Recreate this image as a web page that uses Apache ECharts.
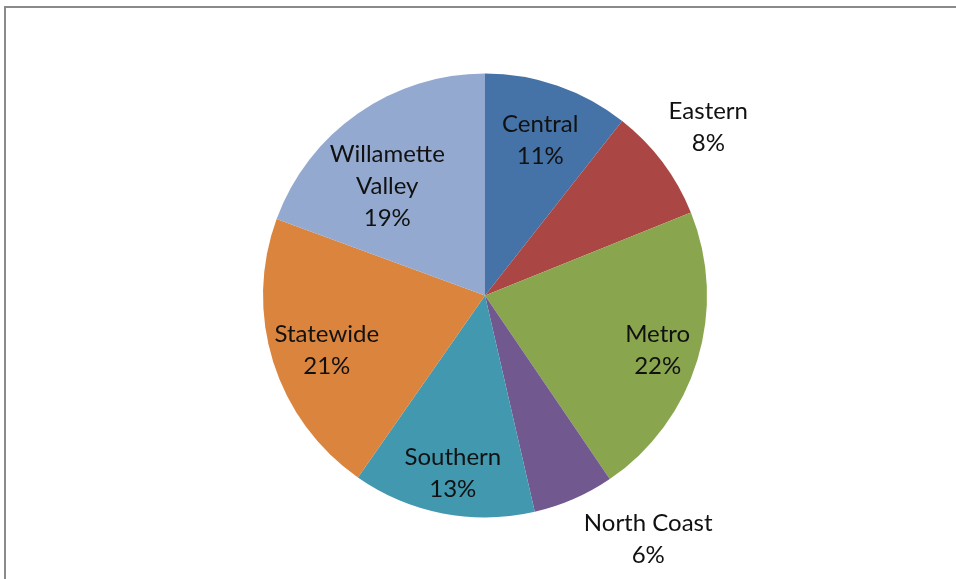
<!DOCTYPE html>
<html>
<head>
<meta charset="utf-8">
<script src="https://cdn.jsdelivr.net/npm/echarts@6/dist/echarts.min.js"></script>
<style>html,body{margin:0;padding:0;background:#fff;}#chart{width:956px;height:579px;}</style>
</head>
<body>
<div id="chart"></div>
<script>
const categories = ['Central', 'Eastern', 'Metro', 'North Coast', 'Southern', 'Statewide', 'Willamette Valley'];
const values = [10.6, 8.3, 21.6, 5.9, 13.3, 20.9, 19.4];
const colors = ['#4572A7', '#AA4643', '#89A54E', '#71588F', '#4198AF', '#DB843D', '#93A9CF'];
const outsideLabels = ['Eastern', 'North Coast'];
// small label nudges (px) to mimic the original's best-fit placement
const labelNudge = {
  'Central': [0, 4], 'Metro': [11, 6], 'Southern': [0, 12], 'Statewide': [3, 4],
  'Willamette Valley': [-1, 29], 'Eastern': [-3, 2], 'North Coast': [50, -16]
};

const center = [485, 295.5];
const R = 222;
const font = 'Lato, "Open Sans", sans-serif';

function fmt(p) {
  const name = p.name === 'Willamette Valley' ? 'Willamette\nValley' : p.name;
  return name + '\n' + Math.round(p.percent) + '%';
}
function nudge() {
  return function (params) {
    const name = categories[params.dataIndex];
    const n = labelNudge[name] || [0, 0];
    return { dx: n[0], dy: n[1] };
  };
}

const baseData = categories.map((c, i) => ({ name: c, value: values[i], itemStyle: { color: colors[i] } }));
const labelStyle = { fontFamily: font, fontSize: 24, color: '#111', lineHeight: 32 };

const chart = echarts.init(document.getElementById('chart'), null, { renderer: 'canvas' });
chart.setOption({
  backgroundColor: '#fff',
  animation: false,
  graphic: [
    { type: 'line', shape: { x1: 4, y1: 7, x2: 956, y2: 7 }, style: { stroke: '#8a8a8a', lineWidth: 2 } },
    { type: 'line', shape: { x1: 5, y1: 6, x2: 5, y2: 579 }, style: { stroke: '#8a8a8a', lineWidth: 2 } }
  ],
  series: [
    {
      type: 'pie', center: center, radius: [0, R], startAngle: 90, clockwise: true,
      silent: true, label: { show: false }, labelLine: { show: false },
      data: baseData
    },
    {
      type: 'pie', center: center, radius: [110, R], startAngle: 90, clockwise: true,
      silent: true, labelLine: { show: false },
      itemStyle: { color: 'rgba(0,0,0,0)' },
      label: Object.assign({ show: true, position: 'inside', formatter: fmt }, labelStyle),
      labelLayout: nudge(),
      data: categories.map((c, i) => ({ name: c, value: values[i], itemStyle: { color: 'rgba(0,0,0,0)' },
        label: { show: outsideLabels.indexOf(c) < 0 } }))
    },
    {
      type: 'pie', center: center, radius: [240, 320], startAngle: 90, clockwise: true,
      silent: true, labelLine: { show: false },
      itemStyle: { color: 'rgba(0,0,0,0)' },
      label: Object.assign({ show: true, position: 'inside', formatter: fmt }, labelStyle),
      labelLayout: nudge(),
      data: categories.map((c, i) => ({ name: c, value: values[i], itemStyle: { color: 'rgba(0,0,0,0)' },
        label: { show: outsideLabels.indexOf(c) >= 0 } }))
    }
  ]
});
</script>
</body>
</html>
